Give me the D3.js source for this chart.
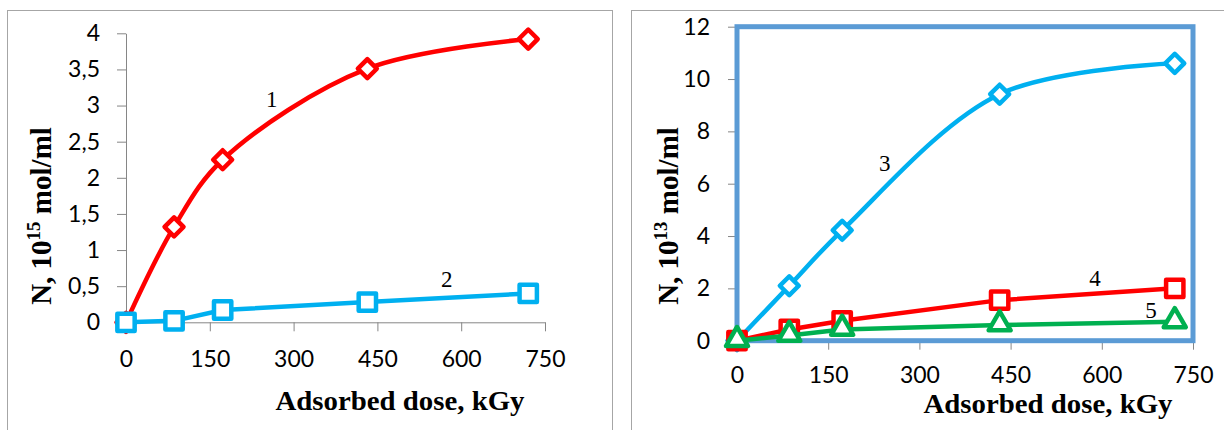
<!DOCTYPE html>
<html>
<head>
<meta charset="utf-8">
<script src="https://cdn.jsdelivr.net/npm/d3@7"></script>
<style>
  body { margin: 0; background: #fff; }
  svg { display: block; }
</style>
</head>
<body>
<div id="chart"></div>
<script>
// Data (dose in kGy)
const doses = [0, 86, 173, 432, 720];
const curve1 = [0, 1.32, 2.25, 3.51, 3.92];   // 10^15 mol/ml
const curve2 = [0, 0.02, 0.17, 0.28, 0.40];
const curve3 = [0, 2.1, 4.22, 9.42, 10.6];    // 10^13 mol/ml
const curve4 = [0, 0.43, 0.76, 1.55, 2.0];
const curve5 = [0, 0.2, 0.43, 0.6, 0.72];

const xTicks = [0, 150, 300, 450, 600, 750];
const yTicksLeft = [0, 0.5, 1, 1.5, 2, 2.5, 3, 3.5, 4];
const yTicksRight = [0, 2, 4, 6, 8, 10, 12];

// curve number labels, placed in data coordinates
const labelsLeft = [{t: "1", x: 261, y: 2.98}, {t: "2", x: 574, y: 0.49}];
const labelsRight = [{t: "3", x: 243, y: 6.48}, {t: "4", x: 589, y: 2.09}, {t: "5", x: 681, y: 0.85}];

const width = 1224, height = 430;
const red = "#ff0000", blue = "#00b0f0", green = "#00b050";

const svg = d3.select("#chart").append("svg")
  .attr("width", width)
  .attr("height", height);

// panel frames
svg.append("rect").attr("x", 7.5).attr("y", 10.5).attr("width", 605).attr("height", 500)
  .attr("fill", "none").attr("stroke", "#a6a6a6");
svg.append("rect").attr("x", 631.5).attr("y", 10.5).attr("width", 700).attr("height", 500)
  .attr("fill", "none").attr("stroke", "#a6a6a6");

// marker shapes
const diamond = d3.symbol().type(d3.symbolSquare).size(180);
const square = d3.symbol().type(d3.symbolSquare).size(300);
const triangle = d3.symbol().type(d3.symbolTriangle).size(210);

function drawPanel(opt) {
  const x = d3.scaleLinear().domain([0, 750]).range(opt.xRange);
  const y = d3.scaleLinear().domain([0, opt.yMax]).range(opt.yRange);
  const g = svg.append("g");

  // x axis
  const gx = g.append("g")
    .attr("transform", `translate(0,${opt.yRange[0]})`)
    .call(d3.axisBottom(x).tickValues(xTicks).tickSize(9).tickSizeOuter(0).tickPadding(opt.xPad));
  // y axis
  const gy = g.append("g")
    .attr("transform", `translate(${opt.xRange[0]},0)`)
    .call(d3.axisLeft(y).tickValues(opt.yTicks).tickSize(9).tickSizeOuter(0)
      .tickPadding(opt.yPad).tickFormat(opt.fmt));
  [gx, gy].forEach(a => {
    a.selectAll("path, line").attr("stroke", "#868686").attr("stroke-width", 1);
    a.selectAll("text").attr("font-family", "Lato, 'Open Sans', sans-serif")
      .attr("font-size", 23).attr("fill", "#000");
  });

  if (opt.box) {
    g.append("rect")
      .attr("x", opt.xRange[0]).attr("y", opt.yRange[1])
      .attr("width", opt.xRange[1] - opt.xRange[0])
      .attr("height", opt.yRange[0] - opt.yRange[1])
      .attr("fill", "none").attr("stroke", "#5b9bd5").attr("stroke-width", 5);
  }

  // series
  opt.series.forEach(s => {
    const pts = doses.map((d, i) => [x(d), y(s.values[i])]);
    const line = d3.line().curve(s.smooth ? d3.curveCatmullRom.alpha(0.5) : d3.curveLinear);
    g.append("path").attr("d", line(pts))
      .attr("fill", "none").attr("stroke", s.color).attr("stroke-width", 4.5)
      .attr("stroke-linejoin", "round");
    g.selectAll(null).data(pts).enter().append("path")
      .attr("d", s.marker === "diamond" ? diamond() : s.marker === "square" ? square() : triangle())
      .attr("transform", p => `translate(${p[0]},${p[1]})` + (s.marker === "diamond" ? " rotate(45)" : "") +
        (s.marker === "triangle" ? " translate(0,-1)" : ""))
      .attr("fill", "#fff").attr("stroke", s.color).attr("stroke-width", 4.5)
      .attr("stroke-linejoin", "round");
  });

  // curve numbers
  g.selectAll(null).data(opt.labels).enter().append("text")
    .attr("x", d => x(d.x)).attr("y", d => y(d.y))
    .attr("text-anchor", "middle")
    .attr("font-family", "'Liberation Serif', 'Times New Roman', serif")
    .attr("font-size", 23).attr("fill", "#000")
    .text(d => d.t);

  // axis titles
  g.append("text")
    .attr("x", opt.xTitleX).attr("y", opt.xTitleY)
    .attr("text-anchor", "middle")
    .attr("font-family", "'Liberation Serif', 'Times New Roman', serif")
    .attr("font-weight", "bold").attr("font-size", 27)
    .attr("textLength", 249).attr("lengthAdjust", "spacingAndGlyphs")
    .text("Adsorbed dose, kGy");

  const yt = g.append("text")
    .attr("transform", `translate(${opt.yTitleX},216) rotate(-90)`)
    .attr("text-anchor", "middle")
    .attr("font-family", "'Liberation Serif', 'Times New Roman', serif")
    .attr("font-weight", "bold").attr("font-size", 29);
  yt.append("tspan").text("N, 10");
  yt.append("tspan").attr("font-size", 19).attr("dy", -11).text(opt.exp);
  yt.append("tspan").attr("dy", 11).text(" mol/ml");
}

drawPanel({
  xRange: [126, 545], yRange: [322.3, 33.3], yMax: 4,
  yTicks: yTicksLeft, yPad: 17, xPad: 19, fmt: d => String(d).replace(".", ","),
  box: false, exp: "15", yTitleX: 51, xTitleX: 400, xTitleY: 410,
  labels: labelsLeft,
  series: [
    {values: curve1, color: red, marker: "diamond", smooth: true},
    {values: curve2, color: blue, marker: "square", smooth: false}
  ]
});

drawPanel({
  xRange: [737, 1193], yRange: [340.7, 26.7], yMax: 12,
  yTicks: yTicksRight, yPad: 18, xPad: 17, fmt: d => String(d),
  box: true, exp: "13", yTitleX: 678, xTitleX: 1048, xTitleY: 413,
  labels: labelsRight,
  series: [
    {values: curve3, color: blue, marker: "diamond", smooth: true},
    {values: curve4, color: red, marker: "square", smooth: false},
    {values: curve5, color: green, marker: "triangle", smooth: false}
  ]
});
</script>
</body>
</html>
